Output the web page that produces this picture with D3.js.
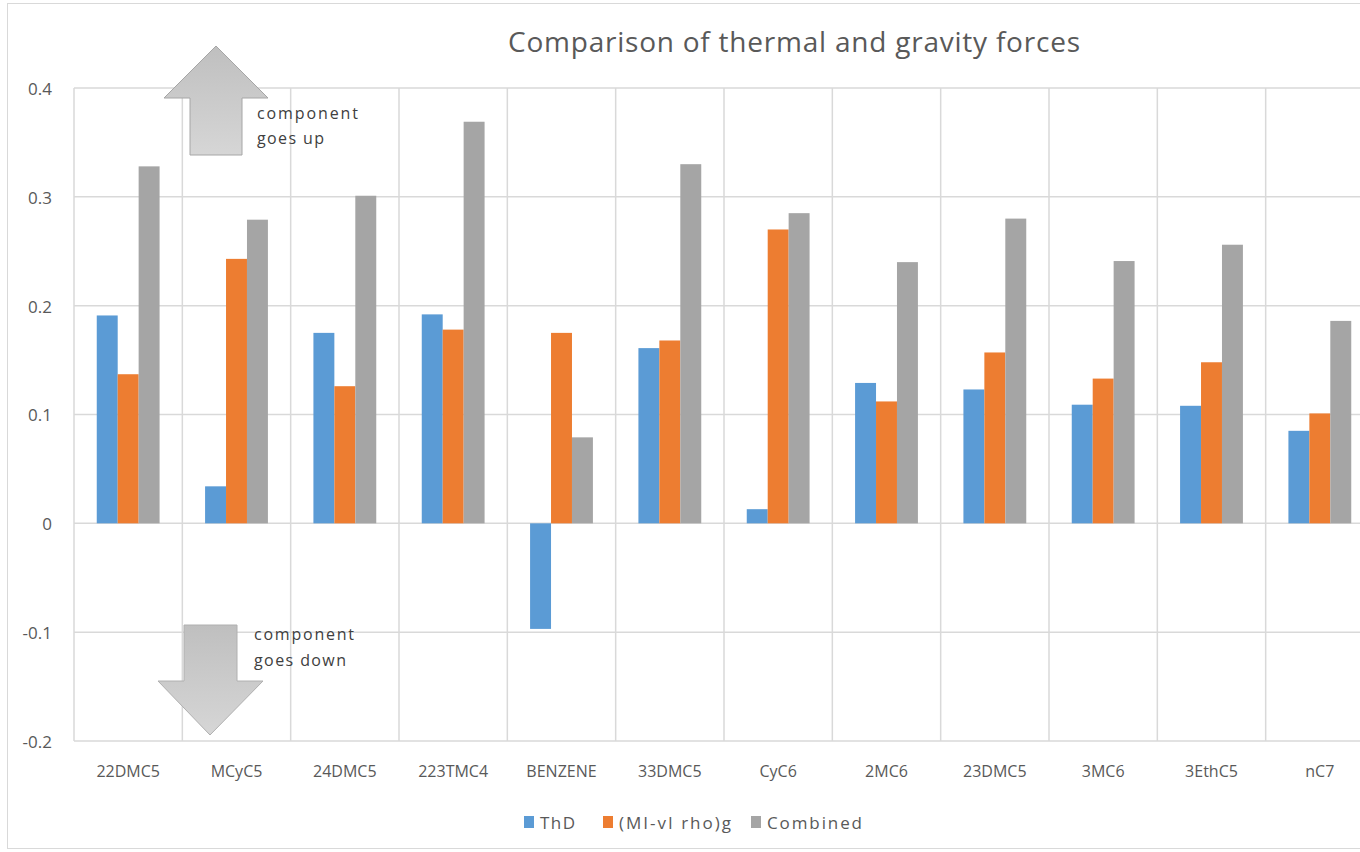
<!DOCTYPE html>
<html><head><meta charset="utf-8">
<script src="https://cdn.jsdelivr.net/npm/d3@7"></script>
<style>body{margin:0;background:#fff}svg{display:block}</style>
</head><body>
<script>
const categories = ["22DMC5","MCyC5","24DMC5","223TMC4","BENZENE","33DMC5","CyC6","2MC6","23DMC5","3MC6","3EthC5","nC7"];
const seriesNames = ["ThD","(MI-vI rho)g","Combined"];
const thd      = [0.191,0.034,0.175,0.192,-0.097,0.161,0.013,0.129,0.123,0.109,0.108,0.085];
const gravity  = [0.137,0.243,0.126,0.178,0.175,0.168,0.270,0.112,0.157,0.133,0.148,0.101];
const combined = [0.328,0.279,0.301,0.369,0.079,0.330,0.285,0.240,0.280,0.241,0.256,0.186];
const yTicks = [-0.2,-0.1,0,0.1,0.2,0.3,0.4];
const colors = ["#5B9BD5","#ED7D31","#A5A5A5"];

const W=1360,H=852;
const FONT="'Open Sans',sans-serif";
const svg=d3.select("body").append("svg").attr("width",W).attr("height",H);
const defs=svg.append("defs");
const g1=defs.append("linearGradient").attr("id","arrowGrad").attr("x1",0).attr("y1",0).attr("x2",0).attr("y2",1);
g1.append("stop").attr("offset","0%").attr("stop-color","#bfbfbf");
g1.append("stop").attr("offset","100%").attr("stop-color","#d6d6d6");

// outer frame
svg.append("rect").attr("x",7.5).attr("y",3.5).attr("width",W+10).attr("height",845).attr("fill","#fff").attr("stroke","#d9d9d9");

const pL=74, pR=1374, pT=88, pB=741;
const x0=d3.scaleBand().domain(categories).range([pL,pR]).padding(0);
const x1=d3.scaleBand().domain(seriesNames).range([0,x0.bandwidth()*0.58]).padding(0);
const groupOff=x0.bandwidth()*0.21;
const y=d3.scaleLinear().domain([-0.2,0.4]).range([pB,pT]);

// gridlines
svg.append("g").selectAll("line").data(yTicks).join("line")
  .attr("x1",pL).attr("x2",pR).attr("y1",d=>y(d)).attr("y2",d=>y(d))
  .attr("stroke","#d9d9d9").attr("stroke-width",1.5);
const bounds=categories.map(c=>x0(c)).concat([pR]);
svg.append("g").selectAll("line").data(bounds).join("line")
  .attr("x1",d=>d).attr("x2",d=>d).attr("y1",pT).attr("y2",pB)
  .attr("stroke","#d9d9d9").attr("stroke-width",1.5);

// y labels
const yAxis=d3.axisLeft(y).tickValues(yTicks).tickFormat(d=>d===0?"0":String(+d.toFixed(1))).tickSize(0).tickPadding(0);
const ya=svg.append("g").attr("transform",`translate(52,1)`).call(yAxis);
ya.select(".domain").remove();
ya.selectAll("text").attr("font-family",FONT).attr("font-size",17).attr("fill","#595959");

// bars
const seriesData=[thd,gravity,combined];
seriesData.forEach((vals,si)=>{
  svg.append("g").selectAll("rect").data(vals).join("rect")
    .attr("x",(d,i)=>x0(categories[i])+groupOff+x1(seriesNames[si]))
    .attr("width",x1.bandwidth())
    .attr("y",d=>y(Math.max(0,d)))
    .attr("height",d=>Math.abs(y(d)-y(0)))
    .attr("fill",colors[si]);
});

// x labels
svg.append("g").selectAll("text").data(categories).join("text")
  .attr("x",d=>x0(d)+x0.bandwidth()/2).attr("y",777)
  .attr("text-anchor","middle").attr("font-family",FONT).attr("font-size",16).attr("fill","#595959")
  .text(d=>d);

// title
svg.append("text").attr("x",508).attr("y",52)
  .attr("font-family",FONT).attr("font-size",28).attr("fill","#595959")
  .attr("textLength",572).attr("lengthAdjust","spacing")
  .text("Comparison of thermal and gravity forces");

// legend
const legX=[524,603,751];
const legLen=[35,112,95];
seriesNames.forEach((n,i)=>{
  svg.append("rect").attr("x",legX[i]).attr("y",816).attr("width",10).attr("height",12).attr("fill",colors[i]);
  svg.append("text").attr("x",legX[i]+16).attr("y",829).attr("font-family",FONT)
    .attr("font-size",17).attr("fill","#595959")
    .attr("textLength",legLen[i]).attr("lengthAdjust","spacing").text(n);
});

// arrows
svg.append("path").attr("d","M216,46 L268,98 L242,98 L242,155 L190,155 L190,98 L164,98 Z")
  .attr("fill","url(#arrowGrad)").attr("stroke","#a6a6a6").attr("stroke-width",1);
svg.append("path").attr("d","M184,625 L237,625 L237,681 L263,681 L210,735 L158,681 L184,681 Z")
  .attr("fill","url(#arrowGrad)").attr("stroke","#b0b0b0").attr("stroke-width",1);
const ann=[["component",257,119,101],["goes up",257,144,67],["component",254,640,100],["goes down",254,666,92]];
svg.append("g").selectAll("text").data(ann).join("text")
  .attr("x",d=>d[1]).attr("y",d=>d[2]).attr("font-family",FONT).attr("font-size",16).attr("fill","#404040")
  .attr("textLength",d=>d[3]).attr("lengthAdjust","spacing")
  .text(d=>d[0]);
</script>
</body></html>
